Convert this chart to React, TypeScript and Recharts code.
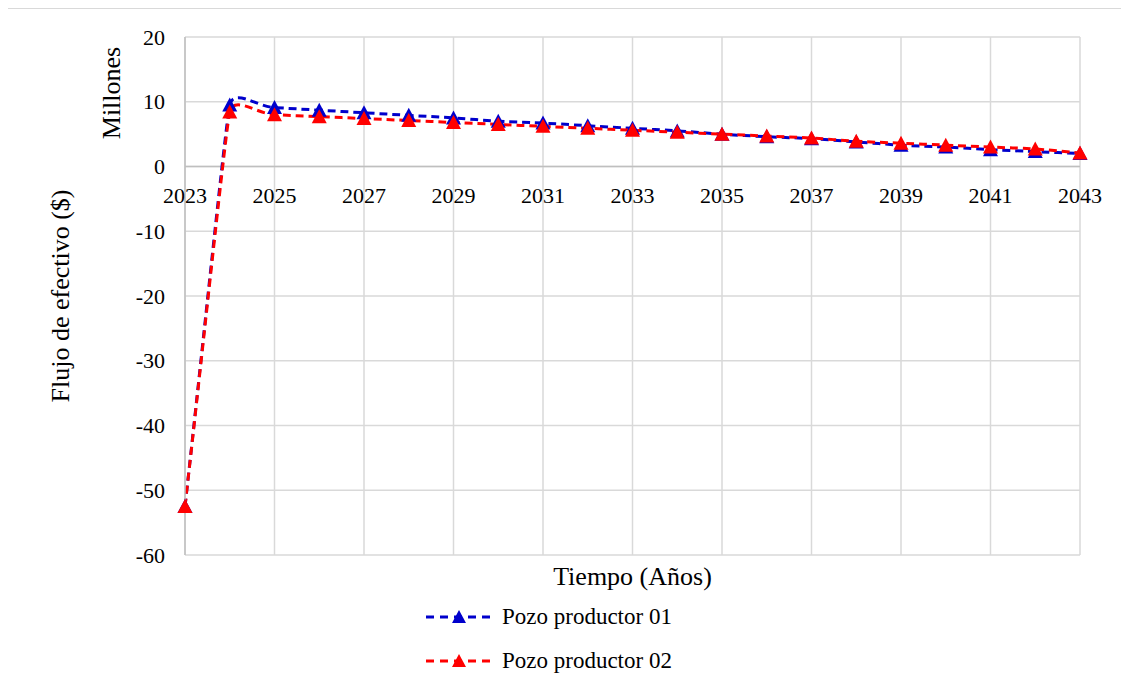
import * as React from "react";
import {
  CartesianGrid,
  Label,
  Line,
  LineChart,
  ReferenceLine,
  XAxis,
  YAxis,
} from "recharts";

const years = [
  2023, 2024, 2025, 2026, 2027, 2028, 2029, 2030, 2031, 2032, 2033, 2034, 2035,
  2036, 2037, 2038, 2039, 2040, 2041, 2042, 2043,
];
const pozo01 = [
  -52.5, 9.5, 9.1, 8.7, 8.3, 7.9, 7.5, 7.0, 6.7, 6.3, 5.9, 5.5, 5.0, 4.6, 4.3,
  3.8, 3.3, 3.0, 2.6, 2.3, 2.0,
];
const pozo02 = [
  -52.5, 8.4, 8.0, 7.7, 7.4, 7.1, 6.8, 6.5, 6.2, 5.9, 5.6, 5.3, 5.0, 4.7, 4.4,
  3.9, 3.6, 3.3, 3.0, 2.7, 2.1,
];
const xTicks = [2023, 2025, 2027, 2029, 2031, 2033, 2035, 2037, 2039, 2041, 2043];
const yTicks = [-60, -50, -40, -30, -20, -10, 0, 10, 20];

const series = [
  { key: "p1", name: "Pozo productor 01", color: "#0000CC" },
  { key: "p2", name: "Pozo productor 02", color: "#FF0000" },
];

const data = years.map((year, i) => ({ year, p1: pozo01[i], p2: pozo02[i] }));

const FONT = '"Liberation Serif", "Times New Roman", serif';
const TOP = 28;
const PLOT_H = 518;
// y of the 0 line inside the chart (domain 20 .. -60)
const ZERO_Y = TOP + (PLOT_H * 20) / 80;

// Excel-like smoothing: tangent from neighbours, arm limited by the shorter
// of the adjacent segments so long jumps stay almost straight
const SMOOTH = 0.4;
const excelSmooth = (context: any) => {
  let pts: [number, number][] = [];
  return {
    areaStart() {},
    areaEnd() {},
    lineStart() {
      pts = [];
    },
    lineEnd() {
      const n = pts.length;
      if (!n) return;
      context.moveTo(pts[0][0], pts[0][1]);
      const seg = (i: number) =>
        i < 0 || i >= n - 1
          ? Infinity
          : Math.hypot(pts[i + 1][0] - pts[i][0], pts[i + 1][1] - pts[i][1]);
      const tan = (i: number) => {
        const a = pts[Math.max(i - 1, 0)];
        const b = pts[Math.min(i + 1, n - 1)];
        const dx = b[0] - a[0];
        const dy = b[1] - a[1];
        const l = Math.hypot(dx, dy) || 1;
        return [dx / l, dy / l];
      };
      for (let i = 0; i < n - 1; i++) {
        const p1 = pts[i];
        const p2 = pts[i + 1];
        const len = seg(i);
        const k1 = Math.min(len, seg(i - 1)) * SMOOTH;
        const k2 = Math.min(len, seg(i + 1)) * SMOOTH;
        const t1 = tan(i);
        const t2 = tan(i + 1);
        context.bezierCurveTo(
          p1[0] + t1[0] * k1,
          p1[1] + t1[1] * k1,
          p2[0] - t2[0] * k2,
          p2[1] - t2[1] * k2,
          p2[0],
          p2[1]
        );
      }
    },
    point(x: number, y: number) {
      pts.push([+x, +y]);
    },
  };
};

const Triangle = (color: string) => (props: any) => {
  const { cx, cy, index } = props;
  if (cx == null || cy == null) return <g key={index} />;
  return (
    <polygon
      key={index}
      points={`${cx},${cy - 7.5} ${cx + 7.5},${cy + 6.5} ${cx - 7.5},${cy + 6.5}`}
      fill={color}
    />
  );
};

const XTick = (props: any) => {
  const { x, payload } = props;
  return (
    <text
      x={x}
      y={ZERO_Y + 36}
      textAnchor="middle"
      style={{ fontFamily: FONT, fontSize: 22 }}
      fill="#000"
    >
      {payload.value}
    </text>
  );
};

const YTick = (props: any) => {
  const { x, y, payload } = props;
  return (
    <text
      x={x}
      y={y}
      textAnchor="end"
      dominantBaseline="central"
      style={{ fontFamily: FONT, fontSize: 22 }}
      fill="#000"
    >
      {payload.value}
    </text>
  );
};

const YTitle = (props: any) => {
  const { viewBox } = props;
  const cy = viewBox.y + viewBox.height / 2;
  return (
    <g style={{ fontFamily: FONT, fontSize: 26 }} fill="#000">
      <text
        x={52}
        y={cy}
        textAnchor="middle"
        dominantBaseline="central"
        transform={`rotate(-90 52 ${cy})`}
      >
        Flujo de efectivo ($)
      </text>
      <text
        x={103}
        y={viewBox.y + 56}
        textAnchor="middle"
        dominantBaseline="central"
        transform={`rotate(-90 103 ${viewBox.y + 56})`}
      >
        Millones
      </text>
    </g>
  );
};

const XTitle = (props: any) => {
  const { viewBox } = props;
  return (
    <text
      x={viewBox.x + viewBox.width / 2}
      y={TOP + PLOT_H + 21}
      textAnchor="middle"
      dominantBaseline="central"
      style={{ fontFamily: FONT, fontSize: 26 }}
      fill="#000"
    >
      Tiempo (Años)
    </text>
  );
};

const LegendBox = () => (
  <div
    style={{
      position: "absolute",
      left: 418,
      top: 586,
      fontFamily: FONT,
      fontSize: 23,
      color: "#000",
    }}
  >
    {series.map((s) => (
      <div
        key={s.key}
        style={{ display: "flex", alignItems: "center", height: 44 }}
      >
        <svg width={66} height={20} style={{ marginRight: 10 }}>
          <line
            x1={0}
            y1={10}
            x2={66}
            y2={10}
            stroke={s.color}
            strokeWidth={3}
            strokeDasharray="8 6"
          />
          <polygon points="33,3 40,16 26,16" fill={s.color} />
        </svg>
        <span>{s.name}</span>
      </div>
    ))}
  </div>
);

export default function App() {
  return (
    <div
      style={{
        position: "relative",
        width: 1121,
        height: 669,
        borderTop: "1px solid #d9d9d9",
        borderLeft: "1px solid #d9d9d9",
        marginLeft: -1,
        background: "#fff",
        fontFamily: FONT,
      }}
    >
      <LineChart
        width={1120}
        height={668}
        data={data}
        margin={{ top: TOP, right: 48, left: 0, bottom: 92 }}
        style={{ fontFamily: FONT }}
      >
        <CartesianGrid stroke="#d9d9d9" strokeWidth={1.5} />
        <XAxis
          dataKey="year"
          type="number"
          domain={[2023, 2043]}
          ticks={xTicks}
          axisLine={false}
          tickLine={false}
          tick={(p: any) => <XTick {...p} />}
          height={30}
          interval={0}
        >
          <Label content={<XTitle />} />
        </XAxis>
        <YAxis
          domain={[-60, 20]}
          ticks={yTicks}
          width={177}
          axisLine={{ stroke: "#bfbfbf", strokeWidth: 1.5 }}
          tickLine={false}
          tickSize={0}
          tickMargin={20}
          tick={(p: any) => <YTick {...p} />}
          interval={0}
        >
          <Label content={<YTitle />} />
        </YAxis>
        <ReferenceLine y={0} stroke="#bfbfbf" strokeWidth={1.5} />
        {series.map((s) => (
          <Line
            key={s.key}
            dataKey={s.key}
            name={s.name}
            type={excelSmooth as any}
            stroke={s.color}
            strokeWidth={3}
            strokeDasharray="8 5"
            dot={Triangle(s.color)}
            activeDot={false}
            isAnimationActive={false}
          />
        ))}
      </LineChart>
      <LegendBox />
    </div>
  );
}
